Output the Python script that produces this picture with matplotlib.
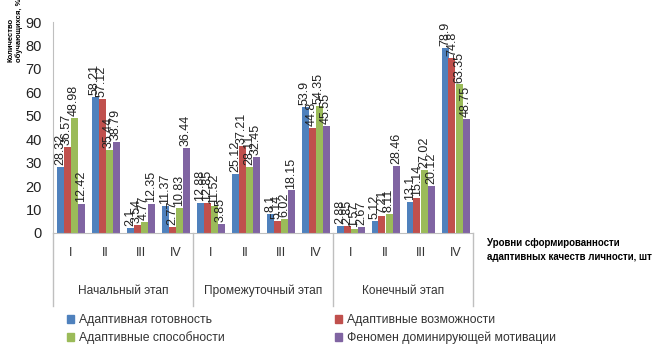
import matplotlib
matplotlib.use("Agg")
import matplotlib.pyplot as plt
import matplotlib.transforms as mtransforms
from matplotlib.patches import Patch
import numpy as np

plt.rcParams['font.family'] = ['Liberation Sans', 'DejaVu Sans']

levels = ["I", "II", "III", "IV"]
stages = ["Начальный этап", "Промежуточный этап", "Конечный этап"]
series_names = ["Адаптивная готовность", "Адаптивные возможности",
                "Адаптивные способности", "Феномен доминирующей мотивации"]
colors = ["#4F81BD", "#C0504D", "#9BBB59", "#8064A2"]

readiness   = [28.32, 58.21, 2.1, 11.37, 12.88, 25.12, 8.1, 53.9, 2.88, 5.12, 13.1, 78.9]
possibility = [36.57, 57.12, 3.54, 2.77, 12.85, 37.21, 5.14, 44.8, 2.85, 7.21, 15.14, 74.8]
ability     = [48.98, 35.44, 4.77, 10.83, 11.52, 28.11, 6.02, 54.35, 1.57, 8.11, 27.02, 63.35]
motivation  = [12.42, 38.79, 12.35, 36.44, 3.85, 32.45, 18.15, 45.55, 2.67, 28.46, 20.12, 48.75]
series = [readiness, possibility, ability, motivation]

fig = plt.figure(figsize=(6.62, 3.46), dpi=100)
ax = fig.add_axes([53/662, 1-233/346, (473-53)/662, (233-22)/346])

n = len(readiness)
x = np.arange(n)
w = 0.2
for i, (vals, c) in enumerate(zip(series, colors)):
    pos = x - 0.3 + i*w
    ax.bar(pos, vals, width=w, color=c, edgecolor='none')
    for px, v in zip(pos, vals):
        ax.text(px, v + 0.8, f"{v:g}", rotation=90, ha='center', va='bottom',
                fontsize=9, color='#222222')

ax.set_xlim(-0.5, n - 0.5)
ax.set_ylim(0, 90)
ax.set_yticks(range(0, 91, 10))
ax.tick_params(axis='y', length=0, labelsize=10.5, colors='#222222', pad=8)
ax.set_xticks([])
for s in ['top', 'right']:
    ax.spines[s].set_visible(False)
ax.spines['left'].set_color('#BFBFBF')
ax.spines['bottom'].set_color('#BFBFBF')

H = 233 - 22
trans = mtransforms.blended_transform_factory(ax.transData, ax.transAxes)
sep_bottom = -(306-233)/H
for b in [-0.5, 3.5, 7.5, 11.5]:
    ax.plot([b, b], [0, sep_bottom], transform=trans, color='#BFBFBF',
            lw=1, clip_on=False)
for i in range(n):
    ax.text(x[i], -(253-233)/H, levels[i % 4], transform=trans,
            ha='center', va='center', fontsize=9, color='#333333')
for g, name in enumerate(stages):
    ax.text(g*4 + 1.5, -(291-233)/H, name, transform=trans,
            ha='center', va='center', fontsize=8.6, color='#333333')

fig.text(487/662, 1-243/346, "Уровни сформированности", fontsize=7,
         fontweight='bold', ha='left', va='center')
fig.text(487/662, 1-257/346, "адаптивных качеств личности, шт", fontsize=7,
         fontweight='bold', ha='left', va='center')

fig.text(15/662, 1-62/346, "Количество\nобучающихся, %", rotation=90,
         fontsize=5.5, fontweight='bold', ha='center', va='bottom',
         multialignment='left')

handles = [Patch(color=c) for c in colors]
order = [0, 2, 1, 3]
leg = fig.legend([handles[i] for i in order], [series_names[i] for i in order],
                 ncol=2, loc='upper left', bbox_to_anchor=(67/662, 1-314/346),
                 frameon=False, fontsize=8.8, handlelength=0.6, handleheight=0.6,
                 handletextpad=0.35, columnspacing=9.05, labelspacing=0.45,
                 borderpad=0, borderaxespad=0)
for t in leg.get_texts():
    t.set_color('#333333')

fig.savefig("out.png", dpi=100)
